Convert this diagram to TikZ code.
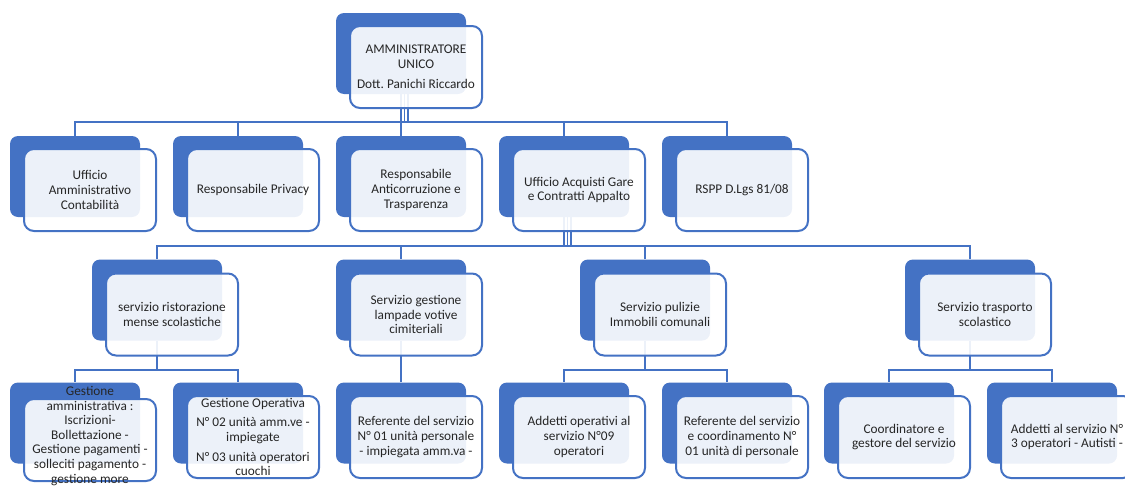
\documentclass[tikz,border=0pt]{standalone}
\usepackage{fontspec}
\setmainfont{Carlito}
\usetikzlibrary{backgrounds}
\definecolor{orgblue}{HTML}{4472C4}

\begin{document}
\begin{tikzpicture}[x=1pt,y=-1pt,
    backcard/.style={fill=orgblue, rounded corners=8pt, minimum width=130pt, minimum height=81pt, inner sep=0pt},
    frontcard/.style={draw=orgblue, line width=2pt, fill=white, fill opacity=0.9, text opacity=1,
      rounded corners=10pt, minimum width=132pt, minimum height=82pt, inner sep=0pt,
      align=center, text=black!85, font=\fontsize{13.3}{14.6}\selectfont},
    link/.style={draw=orgblue, line width=2.4pt}]
\useasboundingbox (0,0) rectangle (1125,485);

% vertice
\node[backcard] (amm-b) at (401,53.5) {};
\node[frontcard] (amm) at (416,67) {AMMINISTRATORE\\ UNICO\\[6pt] Dott.\ Panichi Riccardo};

% uffici
\node[backcard] (uff-b) at (75,176.5) {};
\node[frontcard] (uff) at (90,190) {Ufficio\\ Amministrativo\\ Contabilità};
\node[backcard] (priv-b) at (238,176.5) {};
\node[frontcard] (priv) at (253,190) {Responsabile Privacy};
\node[backcard] (anti-b) at (401,176.5) {};
\node[frontcard] (anti) at (416,190) {Responsabile\\ Anticorruzione e\\ Trasparenza};
\node[backcard] (acq-b) at (564,176.5) {};
\node[frontcard] (acq) at (579,190) {Ufficio Acquisti Gare\\ e Contratti Appalto};
\node[backcard] (rspp-b) at (727,176.5) {};
\node[frontcard] (rspp) at (742,190) {RSPP D.Lgs 81/08};

% servizi
\node[backcard] (mense-b) at (157,300) {};
\node[frontcard] (mense) at (172,314.5) {servizio ristorazione\\ mense scolastiche};
\node[backcard] (lamp-b) at (401,300) {};
\node[frontcard] (lamp) at (416,314.5) {Servizio gestione\\ lampade votive\\ cimiteriali};
\node[backcard] (pul-b) at (645,300) {};
\node[frontcard] (pul) at (660,314.5) {Servizio pulizie\\ Immobili comunali};
\node[backcard] (trasp-b) at (970,300) {};
\node[frontcard] (trasp) at (985,314.5) {Servizio trasporto\\ scolastico};

% personale
\node[backcard] (gamm-b) at (75,423) {};
\node[frontcard] (gamm) at (90,440) {\smash{\begin{tabular}{@{}c@{}}Gestione\\ amministrativa :\\ Iscrizioni-\\ Bollettazione -\\ Gestione pagamenti -\\ solleciti pagamento -\\ gestione more\end{tabular}}};
\node[backcard] (gop-b) at (238,423) {};
\node[frontcard] (gop) at (253,437) {Gestione Operativa\\[5pt] N° 02 unità amm.ve -\\ impiegate\\[5pt] N° 03 unità operatori\\ cuochi};
\node[backcard] (reflamp-b) at (401,423) {};
\node[frontcard] (reflamp) at (416,437) {Referente del servizio\\ N° 01 unità personale\\ - impiegata amm.va -};
\node[backcard] (addpul-b) at (564,423) {};
\node[frontcard] (addpul) at (579,437) {Addetti operativi al\\ servizio N°09\\ operatori};
\node[backcard] (refpul-b) at (727,423) {};
\node[frontcard] (refpul) at (742,437) {Referente del servizio\\ e coordinamento N°\\ 01 unità di personale};
\node[backcard] (coord-b) at (889,423) {};
\node[frontcard] (coord) at (904,437) {Coordinatore e\\ gestore del servizio};
\node[backcard] (autisti-b) at (1052,423) {};
\node[frontcard] (autisti) at (1067,437) {Addetti al servizio N°\\ 3 operatori - Autisti -};

\begin{scope}[on background layer]
  \foreach \c in {uff,priv,anti,acq,rspp}
    \draw[link] (amm-b.south) -- ++(0,28) -| (\c-b.north);
  \foreach \s in {3.5pt,7pt} {
    \draw[link,line width=1.8pt] ([xshift=\s]amm-b.south) -- ++(0,28);
    \draw[link,line width=1.8pt] ([xshift=\s]acq-b.south) -- ++(0,29);
  }
  \foreach \c in {mense,lamp,pul,trasp}
    \draw[link] (acq-b.south) -- ++(0,29) -| (\c-b.north);
  \foreach \c in {gamm,gop}
    \draw[link] (mense-b.south) -- ++(0,29) -| (\c-b.north);
  \draw[link] (lamp-b.south) -- (reflamp-b.north);
  \foreach \c in {addpul,refpul}
    \draw[link] (pul-b.south) -- ++(0,29) -| (\c-b.north);
  \foreach \c in {coord,autisti}
    \draw[link] (trasp-b.south) -- ++(0,29) -| (\c-b.north);
\end{scope}
\end{tikzpicture}
\end{document}
